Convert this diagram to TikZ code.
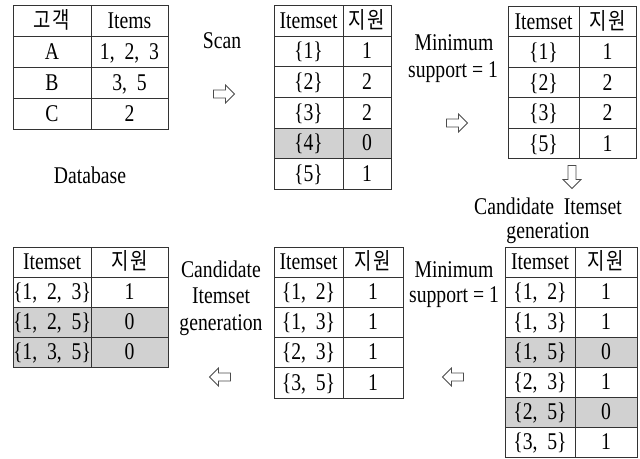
\documentclass[tikz,border=0pt]{standalone}
\usepackage{fontspec}
\usepackage{graphicx}
\setmainfont{Liberation Serif}
\newfontfamily\krfont{Noto Sans CJK KR}
\usetikzlibrary{shapes.arrows}
\newcommand{\nar}[1]{\scalebox{0.82}[1]{#1}}
\newcommand{\mycell}[7][]{\node[cellbox,#1,minimum width={#5-#3},minimum height={#6-#4}] (#2) at ({(#3+#5)/2},{(#4+#6)/2}) {\nar{#7}};}
\newcommand{\kr}[1]{{\krfont\fontsize{23}{24}\selectfont #1}}
\begin{document}
\begin{tikzpicture}[x=1pt,y=-1pt,
  every node/.style={font=\fontsize{24}{28}\selectfont},
  cellbox/.style={draw=black!80, line width=0.9pt, inner sep=0pt, text height=17pt, text depth=1.5pt, anchor=center},
  shaded/.style={fill=black!18},
  lbl/.style={inner sep=0pt, anchor=base},
  blk/.style={single arrow, draw=black!70, line width=0.8pt, fill=white, inner sep=3.6pt, single arrow head extend=5pt, minimum height=21pt, single arrow tip angle=90, single arrow head indent=0pt}]
\useasboundingbox (0,0) rectangle (640,458);

% Table 1: Database
\mycell{t1h1}{13}{5}{91}{36}{\kr{고\hspace{2pt}객}}
\mycell{t1h2}{91}{5}{168}{36}{Items}
\mycell{t1a1}{13}{36}{91}{67}{A}
\mycell{t1a2}{91}{36}{168}{67}{1,~~2,~~3}
\mycell{t1b1}{13}{67}{91}{98}{B}
\mycell{t1b2}{91}{67}{168}{98}{3,~~5}
\mycell{t1c1}{13}{98}{91}{129}{C}
\mycell{t1c2}{91}{98}{168}{129}{2}
\node[lbl] (db) at (90,183) {\nar{Database}};

% Scan
\node[lbl] (scan) at (222,48) {\nar{Scan}};
\node[blk] (a1) at (222,94) {};

% Table 2
\mycell{t2h1}{274}{5}{343}{36}{Itemset}
\mycell{t2h2}{343}{5}{391}{36}{\kr{지\hspace{2pt}원}}
\mycell{t2r1a}{274}{36}{343}{66}{\{1\}}
\mycell{t2r1b}{343}{36}{391}{66}{1}
\mycell{t2r2a}{274}{66}{343}{97}{\{2\}}
\mycell{t2r2b}{343}{66}{391}{97}{2}
\mycell{t2r3a}{274}{97}{343}{128}{\{3\}}
\mycell{t2r3b}{343}{97}{391}{128}{2}
\mycell[shaded]{t2r4a}{274}{128}{343}{158}{\{4\}}
\mycell[shaded]{t2r4b}{343}{128}{391}{158}{0}
\mycell{t2r5a}{274}{158}{343}{189}{\{5\}}
\mycell{t2r5b}{343}{158}{391}{189}{1}

% Minimum support (top)
\node[lbl] (min1a) at (454,50) {\nar{Minimum}};
\node[lbl] (min1b) at (453,77) {\nar{support = 1}};
\node[blk] (a2) at (455,123) {};

% Table 3
\mycell{t3h1}{508}{6}{579}{36.5}{Itemset}
\mycell{t3h2}{579}{6}{636}{36.5}{\kr{지\hspace{2pt}원}}
\mycell{t3r1a}{508}{36.5}{579}{67}{\{1\}}
\mycell{t3r1b}{579}{36.5}{636}{67}{1}
\mycell{t3r2a}{508}{67}{579}{97.5}{\{2\}}
\mycell{t3r2b}{579}{67}{636}{97.5}{2}
\mycell{t3r3a}{508}{97.5}{579}{128}{\{3\}}
\mycell{t3r3b}{579}{97.5}{636}{128}{2}
\mycell{t3r4a}{508}{128}{579}{158.5}{\{5\}}
\mycell{t3r4b}{579}{128}{636}{158.5}{1}

% Down arrow and candidate generation (right)
\node[blk, rotate=-90, minimum height=23pt] (a3) at (572,175) {};
\node[lbl] (cand1a) at (548,214) {\nar{Candidate~~Itemset}};
\node[lbl] (cand1b) at (548,238) {\nar{generation}};

% Table 6 (bottom right)
\mycell{t6h1}{505}{247}{575}{277}{Itemset}
\mycell{t6h2}{575}{247}{637}{277}{\kr{지\hspace{2pt}원}}
\mycell{t6r1a}{505}{277}{575}{307}{\{1,~~2\}}
\mycell{t6r1b}{575}{277}{637}{307}{1}
\mycell{t6r2a}{505}{307}{575}{337}{\{1,~~3\}}
\mycell{t6r2b}{575}{307}{637}{337}{1}
\mycell[shaded]{t6r3a}{505}{337}{575}{367}{\{1,~~5\}}
\mycell[shaded]{t6r3b}{575}{337}{637}{367}{0}
\mycell{t6r4a}{505}{367}{575}{397}{\{2,~~3\}}
\mycell{t6r4b}{575}{367}{637}{397}{1}
\mycell[shaded]{t6r5a}{505}{397}{575}{427}{\{2,~~5\}}
\mycell[shaded]{t6r5b}{575}{397}{637}{427}{0}
\mycell{t6r6a}{505}{427}{575}{457}{\{3,~~5\}}
\mycell{t6r6b}{575}{427}{637}{457}{1}

% Minimum support (bottom)
\node[lbl] (min2a) at (454,277) {\nar{Minimum}};
\node[lbl] (min2b) at (454,302) {\nar{support = 1}};
\node[blk, rotate=180] (a4) at (455,377) {};

% Table 5 (bottom middle)
\mycell{t5h1}{274}{247}{343}{277}{Itemset}
\mycell{t5h2}{343}{247}{403}{277}{\kr{지\hspace{2pt}원}}
\mycell{t5r1a}{274}{277}{343}{307}{\{1,~~2\}}
\mycell{t5r1b}{343}{277}{403}{307}{1}
\mycell{t5r2a}{274}{307}{343}{337}{\{1,~~3\}}
\mycell{t5r2b}{343}{307}{403}{337}{1}
\mycell{t5r3a}{274}{337}{343}{367}{\{2,~~3\}}
\mycell{t5r3b}{343}{337}{403}{367}{1}
\mycell{t5r4a}{274}{367}{343}{398}{\{3,~~5\}}
\mycell{t5r4b}{343}{367}{403}{398}{1}

% Candidate generation (bottom)
\node[lbl] (cand2a) at (221,277) {\nar{Candidate}};
\node[lbl] (cand2b) at (221,303) {\nar{Itemset}};
\node[lbl] (cand2c) at (221,330) {\nar{generation}};
\node[blk, rotate=180] (a5) at (222,377) {};

% Table 4 (bottom left)
\mycell{t4h1}{13}{247}{91}{277}{Itemset}
\mycell{t4h2}{91}{247}{168}{277}{\kr{지\hspace{2pt}원}}
\mycell{t4r1a}{13}{277}{91}{307}{\{1,~~2,~~3\}}
\mycell{t4r1b}{91}{277}{168}{307}{1}
\mycell[shaded]{t4r2a}{13}{307}{91}{337}{\{1,~~2,~~5\}}
\mycell[shaded]{t4r2b}{91}{307}{168}{337}{0}
\mycell[shaded]{t4r3a}{13}{337}{91}{367}{\{1,~~3,~~5\}}
\mycell[shaded]{t4r3b}{91}{337}{168}{367}{0}
\end{tikzpicture}
\end{document}
